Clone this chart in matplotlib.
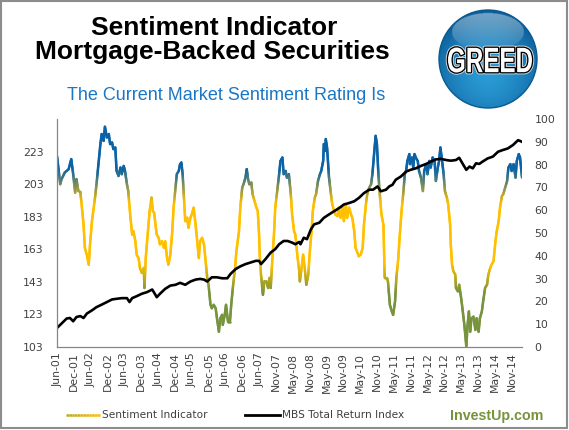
import numpy as np
import matplotlib
matplotlib.use('Agg')
import matplotlib.pyplot as plt
from matplotlib.collections import LineCollection
from matplotlib.colors import LinearSegmentedColormap, to_rgb
from matplotlib.patches import Circle, Rectangle, PathPatch
from matplotlib.textpath import TextPath
from matplotlib.font_manager import FontProperties
from matplotlib.transforms import Affine2D

# ---------------- data (weekly index from Jun-01) ----------------
tick_labels = ["Jun-01", "Dec-01", "Jun-02", "Dec-02", "Jun-03", "Dec-03", "Jun-04",
               "Dec-04", "Jun-05", "Dec-05", "Jun-06", "Dec-06", "Jun-07", "Nov-07",
               "May-08", "Nov-08", "May-09", "Nov-09", "May-10", "Nov-10", "May-11",
               "Nov-11", "May-12", "Nov-12", "May-13", "Nov-13", "May-14", "Nov-14"]
weeks_per_label = 26

sent_weeks_a = [0, 5, 7, 12, 18, 22, 25, 28, 30, 33, 36, 38, 41, 43, 46, 49, 51, 54, 56, 59,
                61, 64, 67, 69, 72, 74, 77, 80, 82, 85, 87, 90, 92, 95, 98, 100, 103, 105, 108, 110,
                113, 116, 118, 121, 123, 126, 128, 131, 134, 135, 137, 140, 143, 146, 148, 150, 152, 154, 157, 159,
                162, 165, 167, 170, 172, 175, 178, 180, 183]
sent_vals_a = [83.8, 71.4, 73.6, 76.5, 78, 82.4, 75.8, 67.7, 73.6, 68.4, 68, 62.6, 53.7, 43.5, 40.5, 36.1, 45, 55.2, 59.6, 66.2,
               71.4, 80.2, 89, 93.4, 90.4, 96.6, 91.9, 93.4, 89, 89.7, 86.8, 87.5, 77.2, 75, 78.7, 75.8, 79.4, 77.2, 71.4, 68.4,
               58.1, 49.3, 50.8, 46.4, 40.5, 39, 34.7, 32.5, 34.7, 25.9, 39, 49.3, 59.6, 65.5, 59.6, 58.9, 53.7, 49.3, 47.9, 45,
               46.4, 43.5, 46.4, 39, 36.1, 40.5, 50.8, 61.1, 69.9]

sent_weeks_b = [185, 188, 190, 192, 194, 196, 198, 201, 203, 206, 208, 211, 214, 216, 219, 221, 224, 227, 229, 232,
                234, 237, 239, 242, 245, 247, 250, 252, 255, 256, 259, 261, 264, 267, 269, 272, 275, 277, 281, 283,
                286, 288, 291, 293, 295, 297, 300, 302, 305, 308, 310, 312, 313, 315, 318, 320, 323, 326, 328, 330,
                332, 335, 337, 340, 343, 345, 348, 350, 353, 355, 358, 361]
sent_vals_b = [75.8, 77.2, 80.2, 80.9, 75.8, 65.5, 55.2, 56.7, 52.3, 56.7, 58.1, 61.1, 53.7, 47.9, 39, 46.4, 47.9, 45, 39, 30.3,
               27.3, 18.5, 17, 18.5, 17, 12.6, 6.7, 12.6, 14.1, 9.7, 14.1, 18.5, 11.1, 11.1, 18.5, 27.3, 34.7, 42, 50.8, 61.1,
               69.9, 71.4, 74.3, 78, 73.6, 71.4, 72.1, 67, 64, 61.1, 59.6, 49.3, 40.5, 31.7, 22.9, 28.8, 28.8, 25.9, 30.3, 25.9,
               36.1, 49.3, 61.1, 68.4, 75.8, 81.6, 83.1, 75.8, 77.2, 74.3, 75.8, 67]

sent_weeks_c = [363, 366, 368, 371, 374, 375, 377, 380, 382, 385, 388, 390, 393, 395, 398, 400, 403, 406, 408, 411,
                412, 414, 415, 417, 420, 423, 425, 428, 430, 433, 435, 438, 441, 443, 446, 448, 451, 454, 456, 459,
                461, 464, 466, 469, 472, 474, 477, 479, 482, 485, 487, 490, 492, 494, 496, 498, 501, 504, 506, 509,
                511, 514, 517, 519, 522, 524, 527, 529, 532, 535, 537, 539]
sent_vals_c = [58.1, 50.8, 49.3, 40.5, 33.2, 28.8, 33.2, 40.5, 36.1, 27.3, 31.7, 40.5, 50.8, 59.6, 65.5, 67, 72.8, 75.8, 77.2, 81.6,
               89, 86, 91.2, 87.5, 74.3, 67, 62.6, 59.6, 58.1, 57.4, 61.1, 56.7, 61.1, 55.2, 62.6, 56.7, 61.1, 58.1, 56.7, 50.8,
               43.5, 41.3, 39.8, 40.5, 43.5, 53.7, 62.6, 67, 69.9, 71.4, 75.8, 86, 92.6, 89, 77.2, 68.4, 58.1, 53.7, 30.3, 30.3,
               28.8, 18.5, 15.6, 14.1, 20, 30.3, 39, 47.9, 59.6, 68.4, 75.8, 77.2]

sent_weeks_d = [541, 544, 545, 548, 550, 552, 554, 557, 559, 562, 565, 567, 570, 572, 575, 577, 580, 583, 585, 588,
                590, 592, 594, 597, 599, 602, 604, 607, 608, 610, 612, 615, 616, 619, 621, 624, 626, 629, 632, 634,
                636, 638, 640, 643, 646, 648, 651, 653, 656, 658, 661, 664, 666, 669, 671, 674, 677, 679, 682, 684,
                687, 689, 692, 695, 697, 700, 702, 705, 708, 710, 713, 715, 718]
sent_vals_d = [81.6, 84.6, 80.2, 83.1, 78.7, 84.6, 83.1, 81.6, 77.2, 74.3, 68.4, 77.2, 80.2, 75.8, 81.6, 78.7, 83.1, 81.6, 72.8, 78.7,
               81.6, 87.5, 83.1, 75.8, 68.4, 65.5, 62.6, 53.7, 45, 36.1, 33.2, 31.7, 25.9, 24.4, 27.3, 21.5, 17, 9.7, 0.3, 9.7,
               15.6, 6.7, 12.6, 13.3, 7.5, 12.6, 6.7, 12.6, 15.6, 20, 25.9, 27.3, 31.7, 34.7, 36.1, 37.6, 46.4, 50.8, 55.2, 61.1,
               66.2, 67, 69.9, 72.8, 78.7, 80.2, 77.2, 80.2, 74.3, 81.6, 84.6, 83.1, 74.3]

mbs_weeks = [0, 7, 15, 20, 25, 30, 36, 41, 46, 54, 61, 69, 77, 85, 92, 100, 108, 112, 116, 123,
             131, 139, 147, 151, 154, 159, 167, 175, 183, 190, 198, 206, 214, 221, 227, 232, 239, 247, 255, 263,
             268, 276, 283, 291, 299, 307, 312, 315, 322, 330, 337, 343, 350, 356, 363, 368, 374, 376, 381, 386,
             392, 397, 405, 412, 420, 428, 436, 443, 451, 459, 466, 474, 482, 488, 495, 500, 508, 513, 518, 523,
             531, 539, 546, 554, 562, 570, 577, 585, 593, 601, 608, 616, 621, 626, 632, 637, 642, 647, 652, 657,
             665, 673, 681, 688, 696, 704, 712, 718]
mbs_vals = [114.7, 117.4, 120.5, 120.8, 118.8, 121.4, 122, 120.8, 123.5, 125.5, 127.5, 129, 130.6, 132.2, 132.6, 133, 133, 130.6, 133, 134.2,
            135.7, 136.7, 138.3, 135.7, 133.6, 135.7, 138.7, 140.7, 141.2, 142.4, 141.2, 143.2, 144.4, 144.8, 144.4, 143.2, 145.8, 145.8, 145.2, 145.2,
            147.9, 150.9, 152.5, 153.9, 154.9, 155.9, 155.9, 153.9, 157, 161, 163.1, 166.1, 168.1, 168.1, 167.1, 166.1, 167.5, 166.1, 170.1, 169.2,
            175.2, 178.3, 179.3, 182.3, 184.4, 186.4, 188.4, 190.5, 191.4, 192.5, 194.5, 197.5, 199.6, 199.6, 201.6, 198.6, 199.6, 201.6, 202.6, 205.7,
            207.7, 210.7, 211.8, 212.7, 214.2, 215.4, 216.8, 218.2, 218.5, 217.8, 217.4, 217.8, 219.2, 215.8, 211.8, 213.8, 212.7, 215.8, 215.4, 216.8,
            218.8, 219.9, 222.9, 223.9, 224.9, 227, 230, 229]

left_ticks = [103, 123, 143, 163, 183, 203, 223]
right_ticks = [0, 10, 20, 30, 40, 50, 60, 70, 80, 90, 100]

sent_x = np.array(sent_weeks_a + sent_weeks_b + sent_weeks_c + sent_weeks_d, float)
sent_y = np.array(sent_vals_a + sent_vals_b + sent_vals_c + sent_vals_d, float)
assert len(sent_x) == len(sent_y)
assert len(mbs_weeks) == len(mbs_vals)

# ---------------- styling ----------------
GREEN = '#77933C'
YELLOW = '#FFC000'
BLUE = '#0A63A6'
TXT = '#404040'
cmap = LinearSegmentedColormap.from_list(
    'sent', [(0.0, GREEN), (0.24, GREEN), (0.36, YELLOW), (0.63, YELLOW), (0.78, BLUE), (1.0, BLUE)])

W, H = 569, 430
fig = plt.figure(figsize=(W / 100, H / 100), dpi=100)
fig.patch.set_facecolor('white')

ax = fig.add_axes([57 / W, 1 - 347 / H, (522 - 57) / W, (347 - 119) / H])
ax2 = ax.twinx()
ax.set_zorder(ax2.get_zorder() + 1)
ax.patch.set_visible(False)

# sentiment (right axis), coloured by value
segs, cols = [], []
for i in range(len(sent_x) - 1):
    n = max(1, int(np.ceil(abs(sent_y[i + 1] - sent_y[i]) / 0.8)))
    t = np.linspace(0, 1, n + 1)
    xs = sent_x[i] + (sent_x[i + 1] - sent_x[i]) * t
    ys = sent_y[i] + (sent_y[i + 1] - sent_y[i]) * t
    for j in range(n):
        segs.append([(xs[j], ys[j]), (xs[j + 1], ys[j + 1])])
        cols.append(cmap(((ys[j] + ys[j + 1]) / 2) / 100))
lc = LineCollection(segs, colors=cols, linewidths=1.8, capstyle='round', joinstyle='round')
ax2.add_collection(lc)

# MBS index (left axis)
ax.plot(mbs_weeks, mbs_vals, color='black', lw=1.9, solid_joinstyle='round')

ax.set_xlim(0, 718)
ax.set_ylim(103, 243)
ax2.set_ylim(0, 100)
ax.set_yticks(left_ticks)
ax.set_yticklabels([str(v) for v in left_ticks])
ax2.set_yticks(right_ticks)
ax2.set_yticklabels([str(v) for v in right_ticks])
ax.set_xticks([k * weeks_per_label for k in range(len(tick_labels))])
ax.set_xticklabels(tick_labels, rotation=90)

ax.tick_params(axis='y', length=0, pad=9.5, labelsize=7.8, labelcolor=TXT)
ax2.tick_params(axis='y', length=0, pad=9, labelsize=7.8, labelcolor=TXT)
ax.tick_params(axis='x', length=0, pad=4, labelsize=7.8, labelcolor=TXT)

for s in ['top', 'right']:
    ax.spines[s].set_visible(False)
for s in ax2.spines.values():
    s.set_visible(False)
for s in ['left', 'bottom']:
    ax.spines[s].set_color('#868686')
    ax.spines[s].set_linewidth(0.9)

# ---------------- overlay (titles, badge, legend, frame) ----------------
ov = fig.add_axes([0, 0, 1, 1], zorder=20)
ov.patch.set_visible(False)

ov.add_patch(Rectangle((1, 1), W - 2.5, H - 3, fill=False, ec='#8c8c8c', lw=1.5))

ov.text(214, 35, 'Sentiment Indicator', ha='center', va='baseline', fontsize=19,
        fontweight='bold', family='Liberation Sans', color='black')
ov.text(212.5, 58.5, 'Mortgage-Backed Securities', ha='center', va='baseline', fontsize=19,
        fontweight='bold', family='Liberation Sans', color='black')
ov.text(226, 99.5, 'The Current Market Sentiment Rating Is', ha='center', va='baseline',
        fontsize=13, family='Liberation Sans', color='#1B76C6')

# GREED badge with radial gradient
cx, cy, r = 488, 59, 49
N = 200
gy, gx = np.mgrid[0:N, 0:N]
px_ = cx - r + (gx + 0.5) * 2 * r / N
py_ = cy - r + (gy + 0.5) * 2 * r / N
d = np.sqrt((px_ - cx) ** 2 + (py_ - (cy + 14)) ** 2) / (r * 1.25)
d = np.clip(d, 0, 1)
c_in = np.array(to_rgb('#2A9BD6'))
c_out = np.array(to_rgb('#0B5C97'))
img = c_in[None, None, :] * (1 - d[..., None] ** 1.6) + c_out[None, None, :] * (d[..., None] ** 1.6)
# glossy highlight at top
hx, hy, hw, hh = cx, cy - 27, 36, 19
e = ((px_ - hx) / hw) ** 2 + ((py_ - hy) / hh) ** 2
a = np.where(e < 1, 0.42 * np.clip((hy + hh - py_) / (2 * hh), 0, 1) ** 0.8, 0)
img = img * (1 - a[..., None]) + a[..., None] * np.array([1, 1, 1])
circ = Circle((cx, cy), r, fc='none', ec='#0A5A92', lw=1.0)
im = ov.imshow(img, extent=(cx - r, cx + r, cy + r, cy - r), origin='upper',
               interpolation='bilinear', aspect='auto')
ov.add_patch(circ)
im.set_clip_path(circ)

tp = TextPath((0, 0), 'GREED', size=10, prop=FontProperties(family='Liberation Sans', weight='bold'))
bb = tp.get_extents()
tr = Affine2D().translate(-bb.x0 - bb.width / 2, -bb.y0 - bb.height / 2) \
    .scale(84 / bb.width, -25 / bb.height).translate(cx + 2, cy + 1)
gpath = tr.transform_path(tp)
ov.add_patch(PathPatch(gpath, fc='black', ec='#dddddd', lw=3.2, joinstyle='round'))
ov.add_patch(PathPatch(gpath, fc='black', ec='black', lw=1.9, joinstyle='round'))
ov.add_patch(PathPatch(gpath, fc='white', ec='none'))

# legend
yl = 415
n = 12
xs = np.linspace(66, 100, n + 1)
leg_segs = [[(xs[k], yl), (xs[k + 1], yl)] for k in range(n)]
leg_cols = [cmap(0.30 + 0.06 * k / n) for k in range(n)]
ov.add_collection(LineCollection(leg_segs, colors=leg_cols, linewidths=1.8))
ov.text(102, yl, 'Sentiment Indicator', ha='left', va='center', fontsize=7.6, color=TXT)
ov.plot([245, 280], [yl, yl], color='black', lw=2)
ov.text(282, yl, 'MBS Total Return Index', ha='left', va='center', fontsize=7.6, color=TXT)
ov.text(497, 420, 'InvestUp.com', ha='center', va='baseline', fontsize=10.3, fontweight='bold',
        family='Liberation Sans', color=GREEN)

ov.set_xlim(0, W)
ov.set_ylim(H, 0)
ov.axis('off')

fig.savefig('out.png', dpi=100, facecolor='white')
